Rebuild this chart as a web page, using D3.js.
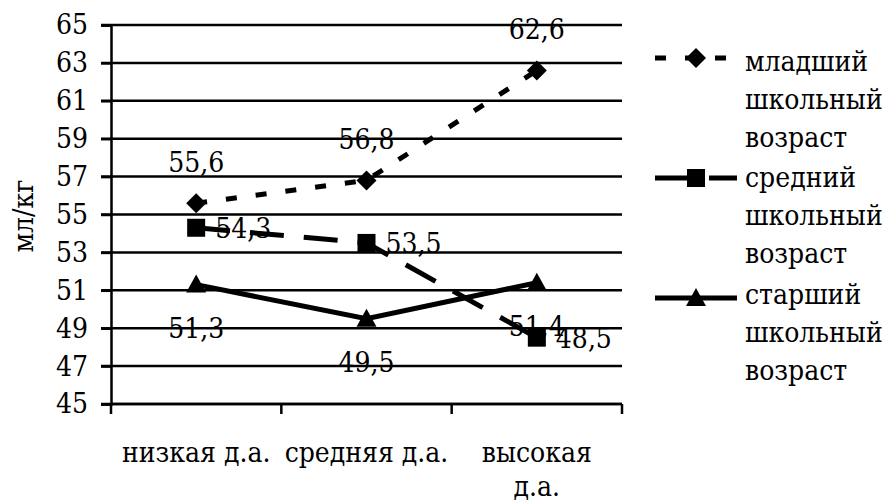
<!DOCTYPE html>
<html>
<head>
<meta charset="utf-8">
<script src="https://cdn.jsdelivr.net/npm/d3@7"></script>
<style>
  body { margin: 0; background: #fff; }
</style>
</head>
<body>
<script>
// data
var categories = ["низкая д.а.", "средняя д.а.", "высокая д.а."];
var seriesNames = [
  ["младший", "школьный", "возраст"],
  ["средний", "школьный", "возраст"],
  ["старший", "школьный", "возраст"]
];
var junior = [55.6, 56.8, 62.6];
var middle = [54.3, 53.5, 48.5];
var senior = [51.3, 49.5, 51.4];
var yTicks = [45, 47, 49, 51, 53, 55, 57, 59, 61, 63, 65];

// size and margins
var w = 891;
var h = 504;
var plotLeft = 111;
var plotRight = 622;
var plotTop = 25;
var plotBottom = 404;
var fontSize = 28;
var serif = "'DejaVu Serif Condensed', 'Liberation Serif', 'DejaVu Serif', serif";

var series = [
  { values: junior, dash: "11,19", marker: "diamond", label: "above" },
  { values: middle, dash: "34,20", marker: "square", label: "right" },
  { values: senior, dash: null, marker: "triangle", label: "below" }
];

// scales
var xScale = d3.scaleBand()
               .domain(categories)
               .range([plotLeft, plotRight]);

var yScale = d3.scaleLinear()
               .domain([45, 65])
               .range([plotBottom, plotTop]);

function xCenter(i) {
  return xScale(categories[i]) + xScale.bandwidth() / 2;
}

// create svg element
var svg = d3.select("body")
            .append("svg")
            .attr("width", w)
            .attr("height", h);

// helper for serif text
function addText(x, y, t) {
  return svg.append("text")
            .attr("x", x)
            .attr("y", y)
            .style("font-family", serif)
            .style("font-size", fontSize + "px")
            .attr("fill", "black")
            .text(t);
}

// horizontal gridlines
svg.selectAll("line.grid")
   .data(yTicks)
   .enter()
   .append("line")
   .attr("class", "grid")
   .attr("x1", plotLeft - 10)
   .attr("x2", plotRight)
   .attr("y1", function(d) { return yScale(d); })
   .attr("y2", function(d) { return yScale(d); })
   .attr("stroke", "black")
   .attr("stroke-width", 2.5);

// y axis
var yAxis = d3.axisLeft(yScale)
              .tickValues(yTicks)
              .tickSize(10)
              .tickPadding(13)
              .tickFormat(d3.format("d"));

var gy = svg.append("g")
            .attr("transform", "translate(" + plotLeft + ",0)")
            .call(yAxis);
gy.select(".domain").attr("stroke-width", 2.5);
gy.selectAll(".tick line").attr("stroke-width", 2.5);
gy.selectAll("text")
  .style("font-family", serif)
  .style("font-size", fontSize + "px")
  .attr("fill", "black");

// x axis, ticks between categories
var xTickPos = xScale.domain().map(function(d) { return xScale(d); }).concat([plotRight]);
svg.append("line")
   .attr("x1", plotLeft).attr("x2", plotRight)
   .attr("y1", plotBottom).attr("y2", plotBottom)
   .attr("stroke", "black")
   .attr("stroke-width", 2.5);
svg.selectAll("line.xtick")
   .data(xTickPos)
   .enter()
   .append("line")
   .attr("class", "xtick")
   .attr("x1", function(d) { return d; })
   .attr("x2", function(d) { return d; })
   .attr("y1", plotBottom)
   .attr("y2", plotBottom + 10)
   .attr("stroke", "black")
   .attr("stroke-width", 2.5);

// category labels (the last one wraps)
var catLines = [["низкая д.а."], ["средняя д.а."], ["высокая", "д.а."]];
catLines.forEach(function(lines, i) {
  lines.forEach(function(t, j) {
    addText(xCenter(i), 462 + j * 34, t).attr("text-anchor", "middle");
  });
});

// y label text
svg.append("text")
   .attr("transform", "translate(33,216) rotate(-90)")
   .attr("text-anchor", "middle")
   .style("font-family", serif)
   .style("font-size", "28px")
   .text("мл/кг");

// marker shapes
function drawMarker(g, type, x, y) {
  if (type == "diamond") {
    g.append("path")
     .attr("d", d3.symbol().type(d3.symbolSquare).size(200)())
     .attr("transform", "translate(" + x + "," + y + ") rotate(45)")
     .attr("fill", "black");
  }
  else if (type == "square") {
    g.append("rect")
     .attr("x", x - 9).attr("y", y - 9)
     .attr("width", 18).attr("height", 18)
     .attr("fill", "black");
  }
  else {
    g.append("path")
     .attr("d", "M" + x + "," + (y - 10) + "L" + (x + 10) + "," + (y + 8) +
           "L" + (x - 10) + "," + (y + 8) + "Z")
     .attr("fill", "black");
  }
}

// lines, markers and data labels
var line = d3.line()
             .x(function(d, i) { return xCenter(i); })
             .y(function(d) { return yScale(d); });

series.forEach(function(s) {
  svg.append("path")
     .datum(s.values)
     .attr("d", line)
     .attr("fill", "none")
     .attr("stroke", "black")
     .attr("stroke-width", 5)
     .attr("stroke-dasharray", s.dash);
});

series.forEach(function(s) {
  s.values.forEach(function(v, i) {
    drawMarker(svg, s.marker, xCenter(i), yScale(v));
  });
});

series.forEach(function(s) {
  s.values.forEach(function(v, i) {
    var x = xCenter(i);
    var y = yScale(v);
    var t = String(v).replace(".", ",");
    if (s.label == "above") {
      addText(x, y - 31, t).attr("text-anchor", "middle");
    }
    else if (s.label == "right") {
      addText(x + 19, y + 10, t);
    }
    else {
      addText(x, y + 53, t).attr("text-anchor", "middle");
    }
  });
});

// legend
var legendY = [58, 178, 298];
var legendTextY = [71, 187, 304];
var lineH = 38;

series.forEach(function(s, n) {
  svg.append("line")
     .attr("x1", 655).attr("x2", 737)
     .attr("y1", legendY[n]).attr("y2", legendY[n])
     .attr("stroke", "black")
     .attr("stroke-width", 5)
     .attr("stroke-dasharray", s.dash);
  drawMarker(svg, s.marker, 696, legendY[n]);
  seriesNames[n].forEach(function(t, j) {
    addText(745, legendTextY[n] + j * lineH, t);
  });
});
</script>
</body>
</html>
